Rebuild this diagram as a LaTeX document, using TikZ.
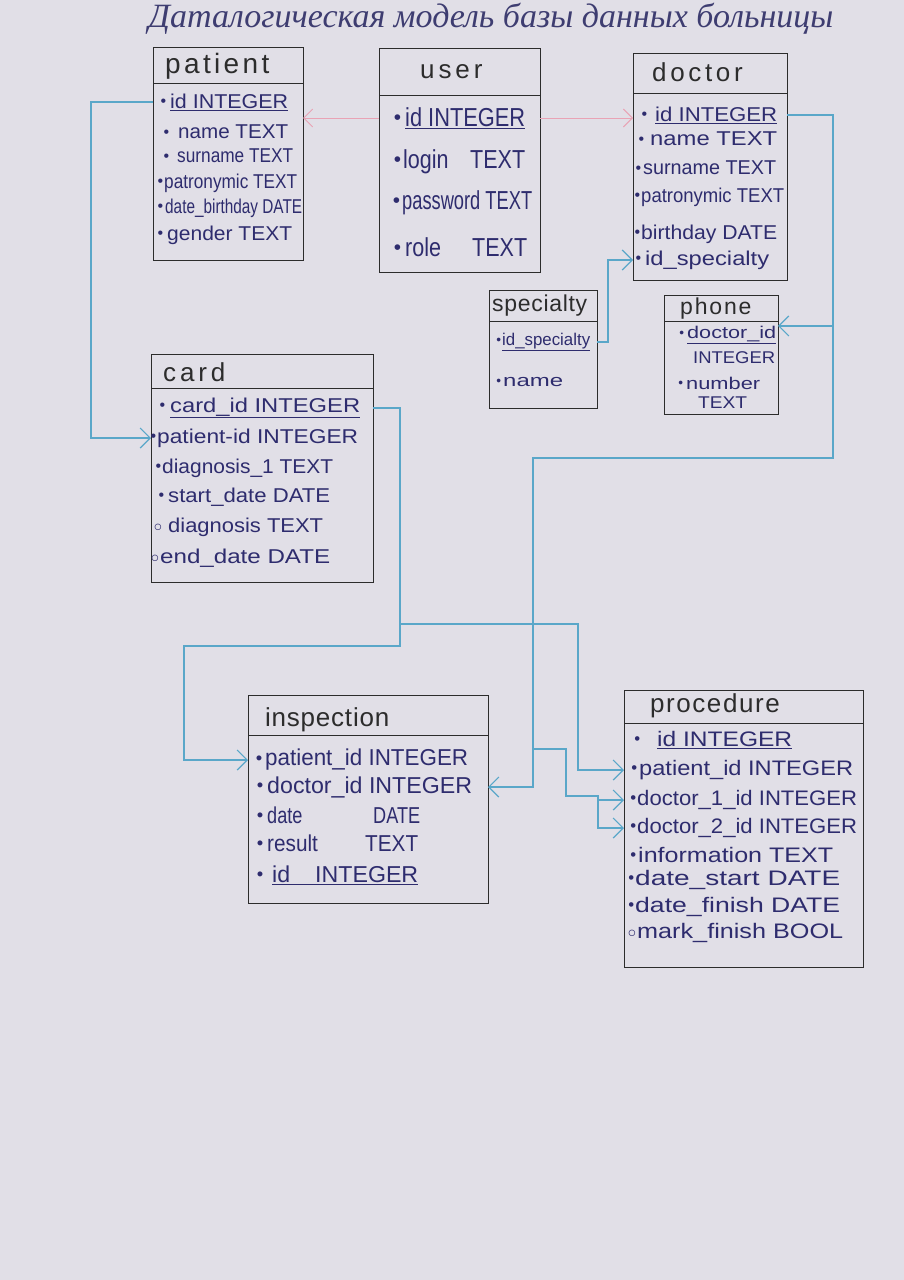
\documentclass[tikz,border=0pt]{standalone}
\usepackage{fontspec}
\setmainfont{Liberation Sans}
\newfontfamily\titlefont{Liberation Serif}
\usetikzlibrary{arrows.meta}
\definecolor{paper}{HTML}{E1DFE7}
\definecolor{ink}{HTML}{2E2C6E}
\definecolor{pen}{HTML}{2C2C2C}
\definecolor{conblue}{HTML}{5AA7C9}
\definecolor{conpink}{HTML}{E9A3B5}
\newcommand{\fs}[1]{\fontsize{#1}{#1}\selectfont}
\newcommand{\bl}[1][3pt]{\llap{\raisebox{0.15ex}{\scalebox{0.8}{\textbullet}}\hspace{#1}}}
\newcommand{\hl}[1][2pt]{\llap{\raisebox{0.1ex}{\scalebox{0.8}{$\circ$}}\hspace{#1}}}
\newsavebox\rowbox
\newcommand{\fitw}[2]{\sbox\rowbox{#2}\pgfmathsetmacro\fitfac{#1/\wd\rowbox}\scalebox{\fitfac}[1]{\usebox\rowbox}}
\tikzset{
  tbl/.style={draw=pen, line width=0.9pt, inner sep=0pt, outer sep=0pt},
  sep/.style={draw=pen, line width=0.9pt},
  attr/.style={anchor=west, inner sep=0pt, text=ink},
  hdr/.style={anchor=west, inner sep=0pt, text=pen},
  fk/.style={draw=conblue, line width=1.2pt, -{Straight Barb[length=10pt,width=20pt,line width=1.2pt]}},
  pk/.style={draw=conpink, line width=0.8pt, -{Straight Barb[length=9pt,width=18pt,line width=0.9pt]}},
}
\begin{document}
\begin{tikzpicture}[x=1pt,y=-1pt]
\fill[paper] (0,0) rectangle (904,1280);
\path[use as bounding box] (0,0) rectangle (904,1280);

% title
\node[text=ink!80!gray, inner sep=0pt] (title) at (491,19)
  {\resizebox{685pt}{!}{\titlefont\itshape\fs{30}Даталогическая модель базы данных больницы}};

% ---------- boxes ----------
\node[tbl, minimum width=150pt, minimum height=213pt] (patient) at (228,153.5) {};
\node[tbl, minimum width=161pt, minimum height=224pt] (user) at (459.5,160) {};
\node[tbl, minimum width=154pt, minimum height=227pt] (doctor) at (710,166.5) {};
\node[tbl, minimum width=108pt, minimum height=118pt] (specialty) at (543,349) {};
\node[tbl, minimum width=114pt, minimum height=119pt] (phone) at (721,354.5) {};
\node[tbl, minimum width=222pt, minimum height=228pt] (card) at (262,468) {};
\node[tbl, minimum width=240pt, minimum height=208pt] (inspection) at (368,799) {};
\node[tbl, minimum width=239pt, minimum height=277pt] (procedure) at (743.5,828.5) {};

\draw[sep] (patient.west |- 0,83) -- (patient.east |- 0,83);
\draw[sep] (user.west |- 0,95) -- (user.east |- 0,95);
\draw[sep] (doctor.west |- 0,93) -- (doctor.east |- 0,93);
\draw[sep] (specialty.west |- 0,321) -- (specialty.east |- 0,321);
\draw[sep] (phone.west |- 0,321) -- (phone.east |- 0,321);
\draw[sep] (card.west |- 0,388) -- (card.east |- 0,388);
\draw[sep] (inspection.west |- 0,735) -- (inspection.east |- 0,735);
\draw[sep] (procedure.west |- 0,723) -- (procedure.east |- 0,723);

% ---------- headers ----------
\node[hdr, font=\fs{28}\addfontfeature{LetterSpace=12}] (hpat) at (165,66) {patient};
\node[hdr, font=\fs{26}\addfontfeature{LetterSpace=15}] (husr) at (420,72) {user};
\node[hdr, font=\fs{26}\addfontfeature{LetterSpace=14}] (hdoc) at (652,72) {doctor};
\node[hdr, font=\fs{23}\addfontfeature{LetterSpace=3}] (hspe) at (492,306) {specialty};
\node[hdr, font=\fs{23}\addfontfeature{LetterSpace=8}] (hpho) at (680,309) {phone};
\node[hdr, font=\fs{26}\addfontfeature{LetterSpace=15}] (hcar) at (163,372) {card};
\node[hdr, font=\fs{26}\addfontfeature{LetterSpace=3}] (hins) at (265,720) {inspection};
\node[hdr, font=\fs{26}\addfontfeature{LetterSpace=6}] (hpro) at (650,706) {procedure};

% ---------- patient ----------
\begin{scope}[every node/.style={attr, font=\fs{20}}]
\node (pid)  at (170,102) {\bl[4pt]\fitw{118}{\underline{id INTEGER}}};
\node (pnam) at (178,132) {\bl[9pt]\fitw{110}{name TEXT}};
\node (psur) at (177,156) {\bl[8pt]\fitw{116}{surname TEXT}};
\node (ppat) at (164,183) {\bl[1pt]\fitw{133}{patronymic TEXT}};
\node (pbir) at (165,208) {\bl[2pt]\fitw{137}{date\_birthday DATE}};
\node (pgen) at (167,235) {\bl[4pt]\fitw{125}{gender TEXT}};
\end{scope}

% ---------- user ----------
\begin{scope}[every node/.style={attr, font=\fs{26}}]
\node (uid)  at (405,118) {\bl[4pt]\fitw{120}{\underline{id INTEGER}}};
\node (ulog) at (403,162) {\bl[2pt]\fitw{122}{login\hspace{1.0em}TEXT}};
\node (upas) at (402,203) {\bl[2pt]\fitw{130}{password TEXT}};
\node (urol) at (405,247) {\bl[4pt]\fitw{122}{role\hspace{1.44em}TEXT}};
\end{scope}

% ---------- doctor ----------
\begin{scope}[every node/.style={attr, font=\fs{20}}]
\node (doid) at (655,115) {\bl[8pt]\fitw{122}{\underline{id INTEGER}}};
\node (dnam) at (650,139) {\bl[6pt]\fitw{127}{name TEXT}};
\node (dsur) at (643,168) {\bl[2pt]\fitw{133}{surname TEXT}};
\node (dpat) at (641,197) {\bl[1pt]\fitw{143}{patronymic TEXT}};
\node (dbir) at (641,234) {\bl[1pt]\fitw{136}{birthday DATE}};
\node (dspec) at (645,260) {\bl[4pt]\fitw{124}{id\_specialty}};
\end{scope}

% ---------- specialty ----------
\begin{scope}[every node/.style={attr, font=\fs{17}}]
\node (sid)  at (502,342) {\bl[1pt]\fitw{88}{\underline{id\_specialty}}};
\node (snam) at (503,382) {\bl[2pt]\fitw{60}{name}};
\end{scope}

% ---------- phone ----------
\begin{scope}[every node/.style={attr, font=\fs{17}}]
\node (phdid) at (687,335) {\bl[3pt]\fitw{89}{\underline{doctor\_id}}};
\node (phint) at (693,358) {\fitw{82}{INTEGER}};
\node (phnum) at (686,383) {\bl[3pt]\fitw{74}{number}};
\node (phtxt) at (698,403) {\fitw{49}{TEXT}};
\end{scope}

% ---------- card ----------
\begin{scope}[every node/.style={attr, font=\fs{20}}]
\node (ccid) at (170,408) {\bl[5pt]\fitw{190}{\underline{card\_id INTEGER}}};
\node (cpid) at (157,438) {\bl[1pt]\fitw{201}{patient-id INTEGER}};
\node (cdg1) at (162,468) {\bl[1pt]\fitw{171}{diagnosis\_1 TEXT}};
\node (cstd) at (168,497) {\bl[4pt]\fitw{162}{start\_date DATE}};
\node (cdg)  at (168,527) {\hl[6pt]\fitw{155}{diagnosis TEXT}};
\node (cend) at (160,558) {\hl[1pt]\fitw{170}{end\_date DATE}};
\end{scope}

% ---------- inspection ----------
\begin{scope}[every node/.style={attr, font=\fs{23}}]
\node (ipid) at (265,760) {\bl[3pt]\fitw{203}{patient\_id INTEGER}};
\node (idoc) at (267,787) {\bl[4pt]\fitw{205}{doctor\_id INTEGER}};
\node (idat) at (267,815) {\bl[4pt]\fitw{153}{date\hspace{3.9em}DATE}};
\node (ires) at (267,843) {\bl[4pt]\fitw{151}{result\hspace{2.28em}TEXT}};
\node (iid)  at (272,875) {\bl[9pt]\fitw{146}{\underline{id\hspace{1.08em}INTEGER}}};
\end{scope}

% ---------- procedure ----------
\begin{scope}[every node/.style={attr, font=\fs{21}}]
\node (prid) at (657,740) {\bl[17pt]\fitw{135}{\underline{id INTEGER}}};
\node (ppid) at (639,770) {\bl[2pt]\fitw{214}{patient\_id INTEGER}};
\node (pd1)  at (637,800) {\bl[1pt]\fitw{220}{doctor\_1\_id INTEGER}};
\node (pd2)  at (637,828) {\bl[1pt]\fitw{220}{doctor\_2\_id INTEGER}};
\node (pinf) at (638,855) {\bl[2pt]\fitw{195}{information TEXT}};
\node (pdst) at (635,880) {\bl[1pt]\fitw{205}{date\_start DATE}};
\node (pdfi) at (635,907) {\bl[1pt]\fitw{205}{date\_finish DATE}};
\node (pmrk) at (637,933) {\hl[1pt]\fitw{206}{mark\_finish BOOL}};
\end{scope}

% ---------- connectors ----------
\draw[pk] (user.west |- uid) -- (patient.east |- uid);
\draw[pk] (user.east |- uid) -- (doctor.west |- uid);

\draw[fk] (patient.west |- pid) -- ++(-62,0) |- (card.west |- cpid);

\draw[fk] (specialty.east |- sid) -- ++(11,0) |- (doctor.west |- dspec);

\coordinate (dA) at (833,458);
\coordinate (dB) at (533,458);
\draw[fk] (doctor.east |- doid) -| (dA) -- (dB) |- (inspection.east |- idoc);
\draw[fk] (dA |- phdid.north) -- (phone.east |- phdid.north);
\coordinate (dC) at (533,749);
\coordinate (dD) at (566,796);
\coordinate (dE) at (598,805);
\draw[fk] (dC) -| (dD) -- (dD -| dE) |- (procedure.west |- pd2);
\draw[fk] (dE |- pd1) -- (procedure.west |- pd1);

\coordinate (cA) at (400,646);
\coordinate (cB) at (184,646);
\draw[fk] (card.east |- ccid) -| (cA) -- (cB) |- (inspection.west |- ipid);
\coordinate (cC) at (400,624);
\coordinate (cD) at (578,624);
\draw[fk] (cC) -- (cD) |- (procedure.west |- ppid);
\end{tikzpicture}
\end{document}
